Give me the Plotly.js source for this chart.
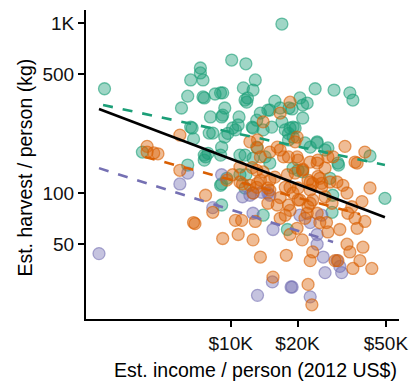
<!DOCTYPE html>
<html>
<head>
<meta charset="utf-8">
<script src="https://cdn.plot.ly/plotly-3.0.1.min.js"></script>
<style>html,body{margin:0;padding:0;background:#fff;}#chart{width:419px;height:381px;}</style>
</head>
<body>
<div id="chart"></div>
<script>
// Income in thousands of 2012 US$, harvest in kg per person
const greenIncome = [2.7,17.0,10.1,11.7,12.9,11.4,12.6,7.3,7.3,6.6,7.5,7.6,8.5,9.0,9.2,11.6,11.9,11.8,24.0,29.2,34.4,35.5,20.5,22.1,21.1,15.8,15.0,16.7,18.3,9.4,8.1,9.1,10.9,13.6,21.1,17.0,10.8,9.7,12.5,12.6,10.2,9.4,8.3,18.5,19.1,18.2,22.8,24.5,27.4,30.4,42.4,9.1,11.0,15.0,21.1,7.9,18.9,49.5,30.6,28.6,6.4,6.0,6.6,4.0,6.8,7.5,8.0,6.4,7.6,9.0,9.1,14.0,18.0,7.6,9.2,10.5,6.7,7.7,9.0,11.6,9.1,9.6,11.0,11.7,11.6,12.6,13.1,14.7,17.6,19.5,18.2,21.6,24.5,26.6,19.1,14.3,20.1,13.1,14.0,15.3,19.1,28.0,28.8];
const greenHarvest = [410,985,605,575,462,415,403,543,508,462,462,362,382,388,388,352,362,342,410,403,388,352,362,338,329,347,307,316,316,316,280,280,280,295,276,262,251,224,244,241,241,213,225,241,244,224,186,197,184,150,165,186,167,150,133,171,312,93,146,77,371,316,244,174,208,367,225,146,167,111,85,74,61,156,287,235,241,163,167,167,113,122,128,128,107,160,186,307,235,241,205,197,200,179,213,163,136,268,235,244,140,122,97];

const orangeIncome = [5.9,4.2,4.5,4.7,4.2,5.9,6.8,16.7,14.0,18.5,19.9,32.7,40.2,37.1,12.2,13.2,13.6,16.2,17.3,19.9,24.5,28.9,22.8,25.2,30.1,19.5,36.3,24.7,23.4,25.7,32.0,33.4,42.4,39.0,35.1,33.7,36.3,40.2,37.1,31.0,27.4,25.2,27.0,21.6,19.9,21.0,23.4,33.4,34.4,39.4,38.2,35.5,43.2,29.5,21.1,19.1,20.5,22.8,24.5,22.1,18.5,22.3,23.2,7.7,6.9,8.3,9.2,10.8,12.6,13.6,17.8,15.5,10.5,11.2,12.9,16.7,17.6,18.5,22.8,30.4,13.2,12.5,10.2,11.0,12.2,13.1,12.6,9.6,15.0,16.7,18.2,20.1,22.8,24.7,26.6,22.3,19.5,18.0,15.8,14.0,13.2,15.0,17.6,20.1,22.8,25.7,28.0,16.7,20.1,23.4,26.6,14.7,18.2,22.3,28.6,21.1,27.4,11.0,13.1,15.0,14.7,18.5,13.6,11.3,16.2];
const orangeHarvest = [219,188,172,170,174,136,67,295,262,342,213,188,174,150,200,184,163,186,163,163,150,163,116,122,116,200,152,125,114,114,111,100,107,89,83,76,71,68,62,61,59,67,67,71,62,53,45,50,45,48,40,36,36,40,136,100,91,87,76,76,79,29,22,97,66,77,54,57,53,42,43,32,69,69,68,71,74,57,40,40,205,141,128,116,111,108,100,119,174,179,163,156,152,156,140,119,131,128,124,133,114,104,108,107,104,108,116,94,91,91,95,87,85,83,87,138,163,142,136,119,107,108,119,113,85];

const purpleIncome = [2.55,5.9,6.4,9.1,8.3,11.3,12.6,12.6,15.5,15.4,18.7,13.2,14.7,20.5,22.8,24.5,24.5,26.1,26.6,31.0,31.6,30.1,18.9,22.8,25.7,12.2,13.8,15.0];
const purpleHarvest = [44,113,131,128,82,95,100,76,61,30,28,25,100,74,67,57,50,42,34,37,34,40,28,24.5,74,97,101,97];

// Fitted lines (log-log), endpoints
const fitGreenX = [2.66, 49.5], fitGreenY = [329, 146];
const fitOrangeX = [4.11, 38.2], fitOrangeY = [163, 75];
const fitPurpleX = [2.55, 28.9], fitPurpleY = [140, 51.5];
const fitAllX = [2.55, 49.5], fitAllY = [312, 72];

const xTickVals = [10, 20, 50], xTickText = ['$10K', '$20K', '$50K'];
const yTickVals = [50, 100, 500, 1000], yTickText = ['50', '100', '500', '1K'];

const GREEN = '27,158,119', ORANGE = '217,95,2', PURPLE = '117,112,179';

function pts(x, y, rgb) {
  return {x: x, y: y, type: 'scatter', mode: 'markers', hoverinfo: 'skip', showlegend: false,
    marker: {size: 12, color: 'rgba(' + rgb + ',0.42)', line: {color: 'rgba(' + rgb + ',0.6)', width: 1.3}}};
}
function fit(x, y, color, dash) {
  return {x: x, y: y, type: 'scatter', mode: 'lines', hoverinfo: 'skip', showlegend: false,
    line: {color: color, width: 2.6, dash: dash}};
}

const data = [
  pts(greenIncome, greenHarvest, GREEN),
  pts(purpleIncome, purpleHarvest, PURPLE),
  pts(orangeIncome, orangeHarvest, ORANGE),
  fit(fitGreenX, fitGreenY, 'rgb(' + GREEN + ')', '10px,10px'),
  fit(fitOrangeX, fitOrangeY, 'rgb(' + ORANGE + ')', '10px,10px'),
  fit(fitPurpleX, fitPurpleY, 'rgb(' + PURPLE + ')', '10px,10px'),
  fit(fitAllX, fitAllY, '#000', 'solid')
];

const axisCommon = {
  type: 'log', showgrid: false, zeroline: false, showline: true, linecolor: '#000', linewidth: 2,
  ticks: 'outside', ticklen: 6, tickwidth: 2, tickcolor: '#000',
  tickfont: {family: 'Liberation Sans, Arial, sans-serif', size: 19, color: '#111'}
};

const layout = {
  width: 419, height: 381,
  margin: {l: 86, r: 20, t: 10, b: 62},
  paper_bgcolor: '#fff', plot_bgcolor: '#fff',
  font: {family: 'Liberation Sans, Arial, sans-serif', color: '#000'},
  xaxis: Object.assign({}, axisCommon, {range: [0.348, 1.758], tickmode: 'array', tickvals: xTickVals, ticktext: xTickText}),
  yaxis: Object.assign({}, axisCommon, {range: [1.259, 3.076], tickmode: 'array', tickvals: yTickVals, ticktext: yTickText}),
  annotations: [
    {text: 'Est. income / person (2012 US$)', xref: 'paper', yref: 'paper', x: 0.54, y: -0.165,
     xanchor: 'center', yanchor: 'middle', showarrow: false, font: {size: 19.5, color: '#000'}},
    {text: 'Est. harvest / person (kg)', xref: 'paper', yref: 'paper', x: -0.195, y: 0.49,
     xanchor: 'center', yanchor: 'middle', textangle: -90, showarrow: false, font: {size: 19.5, color: '#000'}}
  ],
  showlegend: false
};

Plotly.newPlot('chart', data, layout, {staticPlot: true, displayModeBar: false});
</script>
</body>
</html>
